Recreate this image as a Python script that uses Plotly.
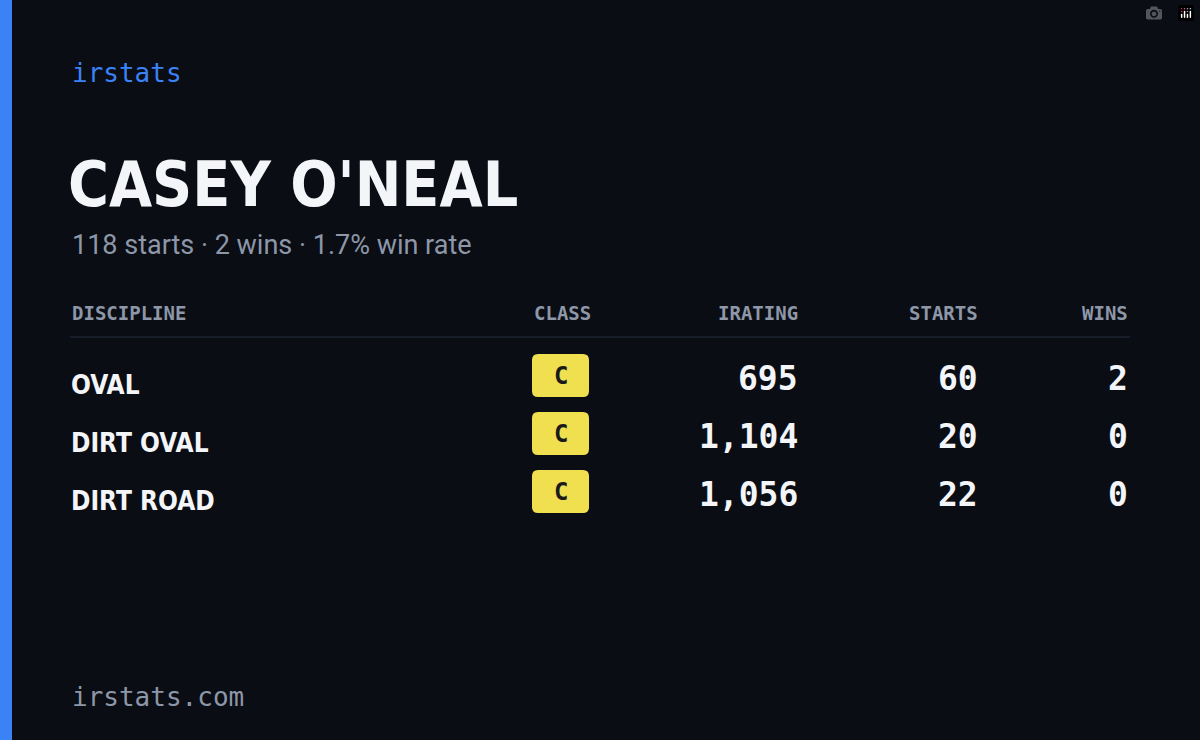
import plotly.graph_objects as go

disciplines = ["OVAL", "DIRT OVAL", "DIRT ROAD"]
classes = ["C", "C", "C"]
iratings = [695, 1104, 1056]
starts = [60, 20, 22]
wins = [2, 0, 0]
headers = ["DISCIPLINE", "CLASS", "IRATING", "STARTS", "WINS"]
name = "CASEY O'NEAL"
total_starts = 118
total_wins = 2
win_rate = 1.7

BG = "#0a0d14"
MONO = "DejaVu Sans Mono, Liberation Mono, monospace"
COND = "DejaVu Sans Condensed, Liberation Sans Narrow, sans-serif"
SANS = "Roboto, Inter, sans-serif"
GREY = "#8d97a8"

fig = go.Figure()
fig.update_xaxes(range=[0, 1200], visible=False, fixedrange=True)
fig.update_yaxes(range=[740, 0], visible=False, fixedrange=True)
fig.update_layout(width=1200, height=740, margin=dict(l=0, r=0, t=0, b=0),
                  paper_bgcolor=BG, plot_bgcolor=BG, showlegend=False)

shapes = [dict(type="rect", x0=0, x1=12, y0=0, y1=740, fillcolor="#3b82f6", line_width=0),
          dict(type="line", x0=70, x1=1130, y0=337, y1=337, line=dict(color="#1c2230", width=1.5))]
ann = []
def txt(x, y, t, size, color, font, xanchor="left", bold=False):
    ann.append(dict(x=x, y=y, xref="x", yref="y", text=(f"<b>{t}</b>" if bold else t),
                    showarrow=False, xanchor=xanchor, yanchor="middle",
                    font=dict(size=size, color=color, family=font)))

txt(70, 73, "irstats", 26, "#3b82f6", MONO)
txt(66, 184, name, 62, "#f3f5f9", COND, bold=True)
txt(70, 245, f"{total_starts} starts · {total_wins} wins · {win_rate}% win rate", 27, GREY, SANS)

hx = [(70, "left"), (593, "right"), (800, "right"), (980, "right"), (1130, "right")]
for (x, a), h in zip(hx, headers):
    txt(x, 313, h, 19, GREY, MONO, a, bold=True)

for i, d in enumerate(disciplines):
    y = 383 + i * 58
    txt(69, y + 2, d, 26, "#f3f5f9", COND, bold=True)
    x0, x1, y0, y1, r = 532, 589, y - 29, y + 14, 6
    shapes.append(dict(type="path", fillcolor="#f0e050", line_width=0,
        path=f"M{x0+r},{y0} L{x1-r},{y0} Q{x1},{y0} {x1},{y0+r} L{x1},{y1-r} Q{x1},{y1} {x1-r},{y1} "
             f"L{x0+r},{y1} Q{x0},{y1} {x0},{y1-r} L{x0},{y0+r} Q{x0},{y0} {x0+r},{y0} Z"))
    txt(560.5, y - 7, classes[i], 24, "#1a1a1a", MONO, "center", bold=True)
    txt(800, y - 5, f"{iratings[i]:,}", 33, "#f3f5f9", MONO, "right", bold=True)
    txt(980, y - 5, f"{starts[i]}", 33, "#f3f5f9", MONO, "right", bold=True)
    txt(1130, y - 5, f"{wins[i]}", 33, "#f3f5f9", MONO, "right", bold=True)

txt(70, 697, "irstats.com", 26, GREY, MONO)
fig.update_layout(shapes=shapes, annotations=ann)
fig.write_html("out.html", post_script="document.body.style.margin='0';document.body.style.background='#0a0d14';")
